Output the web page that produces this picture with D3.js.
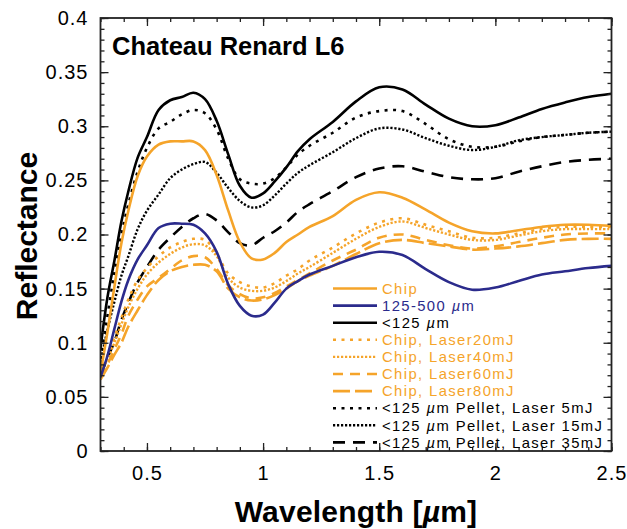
<!DOCTYPE html>
<html><head><meta charset="utf-8">
<script src="https://cdn.jsdelivr.net/npm/d3@7"></script>
<style>
html,body{margin:0;padding:0;background:#fff;}
svg{display:block;font-family:"Liberation Sans",Arial,Helvetica,sans-serif;}
</style></head>
<body>
<svg id="chart" width="627" height="529"></svg>
<script>
// ---- data (wavelength in µm, reflectance) ----
const wavelength = [0.30,0.33,0.36,0.39,0.42,0.46,0.50,0.55,0.60,0.65,0.70,0.75,0.80,0.85,0.90,0.95,1.00,1.05,1.10,1.15,1.20,1.30,1.40,1.50,1.60,1.70,1.80,1.90,2.00,2.10,2.20,2.30,2.40,2.50];

const chip        = [0.072,0.110,0.152,0.192,0.222,0.254,0.272,0.283,0.286,0.286,0.286,0.278,0.255,0.222,0.193,0.178,0.177,0.183,0.193,0.200,0.207,0.217,0.232,0.239,0.234,0.223,0.211,0.203,0.201,0.204,0.207,0.209,0.209,0.208];
const size125_500 = [0.068,0.088,0.113,0.138,0.158,0.177,0.190,0.206,0.210,0.210,0.209,0.201,0.184,0.154,0.134,0.125,0.126,0.137,0.150,0.157,0.163,0.171,0.179,0.184,0.181,0.168,0.156,0.149,0.151,0.157,0.163,0.166,0.169,0.171];
const lt125       = [0.095,0.142,0.176,0.212,0.240,0.271,0.290,0.315,0.324,0.327,0.331,0.325,0.305,0.274,0.245,0.234,0.238,0.249,0.262,0.277,0.288,0.304,0.323,0.336,0.334,0.320,0.307,0.300,0.301,0.308,0.316,0.322,0.327,0.330];
const chipL20     = [0.072,0.088,0.105,0.123,0.140,0.158,0.169,0.180,0.188,0.193,0.196,0.195,0.182,0.164,0.156,0.152,0.151,0.155,0.162,0.168,0.176,0.188,0.201,0.211,0.215,0.209,0.203,0.197,0.197,0.201,0.205,0.207,0.207,0.207];
const chipL40     = [0.070,0.085,0.100,0.117,0.133,0.150,0.163,0.174,0.182,0.188,0.191,0.190,0.180,0.160,0.151,0.148,0.148,0.151,0.157,0.164,0.170,0.183,0.196,0.207,0.212,0.206,0.200,0.195,0.195,0.199,0.203,0.205,0.205,0.205];
const chipL60     = [0.068,0.080,0.094,0.108,0.125,0.140,0.152,0.160,0.168,0.176,0.180,0.179,0.168,0.153,0.145,0.141,0.142,0.146,0.152,0.158,0.164,0.176,0.186,0.197,0.200,0.195,0.190,0.187,0.189,0.193,0.197,0.200,0.201,0.201];
const chipL80     = [0.066,0.077,0.089,0.100,0.115,0.130,0.144,0.158,0.166,0.170,0.172,0.172,0.166,0.150,0.142,0.139,0.140,0.144,0.150,0.157,0.162,0.171,0.182,0.192,0.195,0.192,0.189,0.186,0.187,0.189,0.192,0.195,0.196,0.196];
const pellet5     = [0.085,0.125,0.165,0.200,0.228,0.258,0.280,0.298,0.304,0.311,0.315,0.312,0.297,0.270,0.251,0.247,0.247,0.252,0.262,0.274,0.282,0.294,0.308,0.314,0.314,0.302,0.288,0.281,0.281,0.286,0.290,0.292,0.294,0.295];
const pellet15    = [0.082,0.112,0.138,0.162,0.180,0.205,0.222,0.237,0.252,0.260,0.265,0.267,0.257,0.243,0.231,0.225,0.227,0.236,0.247,0.257,0.264,0.276,0.289,0.298,0.297,0.289,0.282,0.278,0.281,0.287,0.290,0.292,0.294,0.295];
const pellet35    = [0.070,0.086,0.101,0.121,0.137,0.156,0.170,0.186,0.197,0.207,0.215,0.219,0.213,0.202,0.192,0.190,0.197,0.203,0.211,0.221,0.228,0.240,0.253,0.261,0.263,0.258,0.253,0.251,0.252,0.258,0.263,0.267,0.269,0.270];

const seriesLabels = ["Chip","125-500 µm","<125 µm","Chip, Laser20mJ","Chip, Laser40mJ","Chip, Laser60mJ","Chip, Laser80mJ","<125 µm Pellet, Laser 5mJ","<125 µm Pellet, Laser 15mJ","<125 µm Pellet, Laser 35mJ"];
const seriesValues = [chip,size125_500,lt125,chipL20,chipL40,chipL60,chipL80,pellet5,pellet15,pellet35];

const xTickValues = [0.5,1,1.5,2,2.5];
const yTickValues = [0,0.05,0.1,0.15,0.2,0.25,0.3,0.35,0.4];
const titleText = "Chateau Renard L6";

// ---- styles ----
const ORANGE = "#F5A42A", NAVY = "#2B2B8C", BLACK = "#000";
const styles = [
  {c:ORANGE, d:null, w:2.6},
  {c:NAVY,   d:null, w:2.6},
  {c:BLACK,  d:null, w:2.6},
  {c:ORANGE, d:"3,5.5", w:2.6},
  {c:ORANGE, d:"2.2,1.8", w:2.4},
  {c:ORANGE, d:"10,7", w:2.6},
  {c:ORANGE, d:"17,5", w:2.6},
  {c:BLACK,  d:"3,5.5", w:2.6},
  {c:BLACK,  d:"2.2,1.8", w:2.4},
  {c:BLACK,  d:"12,8", w:2.6}
];

const svg = d3.select("#chart");
const L = 100.5, R = 611.5, T = 18, B = 451;
const x = d3.scaleLinear().domain([0.3,2.5]).range([L,R]);
const y = d3.scaleLinear().domain([0,0.4]).range([B,T]);

svg.append("defs").append("clipPath").attr("id","clip")
  .append("rect").attr("x",L).attr("y",T).attr("width",R-L).attr("height",B-T);

// lines (draw in reverse so solid ones on top)
const line = d3.line().x(d=>x(d[0])).y(d=>y(d[1])).curve(d3.curveCatmullRom.alpha(0.5));
const g = svg.append("g").attr("clip-path","url(#clip)");
const order = [9,8,7,6,5,4,3,0,1,2];
order.forEach(i=>{
  const pts = wavelength.map((w,k)=>[w,seriesValues[i][k]]);
  const p = g.append("path").attr("d",line(pts)).attr("fill","none")
    .attr("stroke",styles[i].c).attr("stroke-width",styles[i].w)
    .attr("stroke-linejoin","round");
  if(styles[i].d) p.attr("stroke-dasharray",styles[i].d);
});

// axes with inward ticks
const fontTick = 20;
function steps(a,b,step){const r=[];for(let v=a;v<=b+1e-9;v+=step)r.push(+v.toFixed(4));return r;}
const xMinor = steps(0.3,2.5,0.1);
const yMinor = steps(0,0.4,0.01);
const xMajor = steps(0.5,2.5,0.5);
const yMajor = steps(0,0.4,0.05);

const axB = d3.axisBottom(x).tickValues(xMinor).tickSize(-4).tickFormat("");
const axT = d3.axisTop(x).tickValues(xMinor).tickSize(-4).tickFormat("");
const axL = d3.axisLeft(y).tickValues(yMinor).tickSize(-4).tickFormat("");
const axR = d3.axisRight(y).tickValues(yMinor).tickSize(-4).tickFormat("");
const axBM = d3.axisBottom(x).tickValues(xTickValues).tickSize(-8).tickPadding(15).tickFormat(d3.format("~g"));
const axTM = d3.axisTop(x).tickValues(xMajor).tickSize(-8).tickFormat("");
const axLM = d3.axisLeft(y).tickValues(yTickValues).tickSize(-8).tickPadding(12).tickFormat(d3.format("~g"));
const axRM = d3.axisRight(y).tickValues(yMajor).tickSize(-8).tickFormat("");

[[axB,`translate(0,${B})`],[axT,`translate(0,${T})`],[axL,`translate(${L},0)`],[axR,`translate(${R},0)`],
 [axBM,`translate(0,${B})`],[axTM,`translate(0,${T})`],[axLM,`translate(${L},0)`],[axRM,`translate(${R},0)`]]
.forEach(([ax,tr])=>{
  const a = svg.append("g").attr("transform",tr).call(ax);
  a.select(".domain").remove();
  a.selectAll(".tick line").attr("stroke","#222").attr("stroke-width",1.3);
  a.selectAll("text").attr("font-size",fontTick).attr("fill","#000").attr("letter-spacing","1")
    .attr("font-family","'Liberation Sans',Arial,sans-serif");
});
svg.append("rect").attr("x",L).attr("y",T).attr("width",R-L).attr("height",B-T)
  .attr("fill","none").attr("stroke","#222").attr("stroke-width",1.8);

// title
svg.append("text").attr("x",112).attr("y",55).attr("font-size",25.5).attr("font-weight","bold")
  .text(titleText);

// axis labels
const xl = svg.append("text").attr("x",(L+R)/2).attr("y",522).attr("text-anchor","middle")
  .attr("font-size",30).attr("font-weight","bold").attr("letter-spacing","0.2");
xl.append("tspan").text("Wavelength [");
xl.append("tspan").attr("font-style","italic").text("µ");
xl.append("tspan").text("m]");
svg.append("text").attr("transform",`translate(37,236) rotate(-90)`).attr("text-anchor","middle")
  .attr("font-size",30).attr("font-weight","bold").text("Reflectance");

// legend
const legY0 = 288.5, legDY = 17.1, legFont = 14.8;
const leg = svg.append("g");
seriesLabels.forEach((lab,i)=>{
  const yy = legY0 + i*legDY;
  const ln = leg.append("line").attr("x1",333).attr("x2",377).attr("y1",yy).attr("y2",yy)
    .attr("stroke",styles[i].c).attr("stroke-width",styles[i].w);
  if(styles[i].d) ln.attr("stroke-dasharray",styles[i].d);
  const t = leg.append("text").attr("x",382).attr("y",yy+5.2).attr("font-size",legFont)
    .attr("letter-spacing","1.4").attr("fill",styles[i].c);
  const parts = lab.split("µ");
  t.append("tspan").text(parts[0]);
  if(parts.length>1){
    t.append("tspan").attr("font-style","italic").text("µ");
    t.append("tspan").text(parts[1]);
  }
});
</script>
</body></html>
